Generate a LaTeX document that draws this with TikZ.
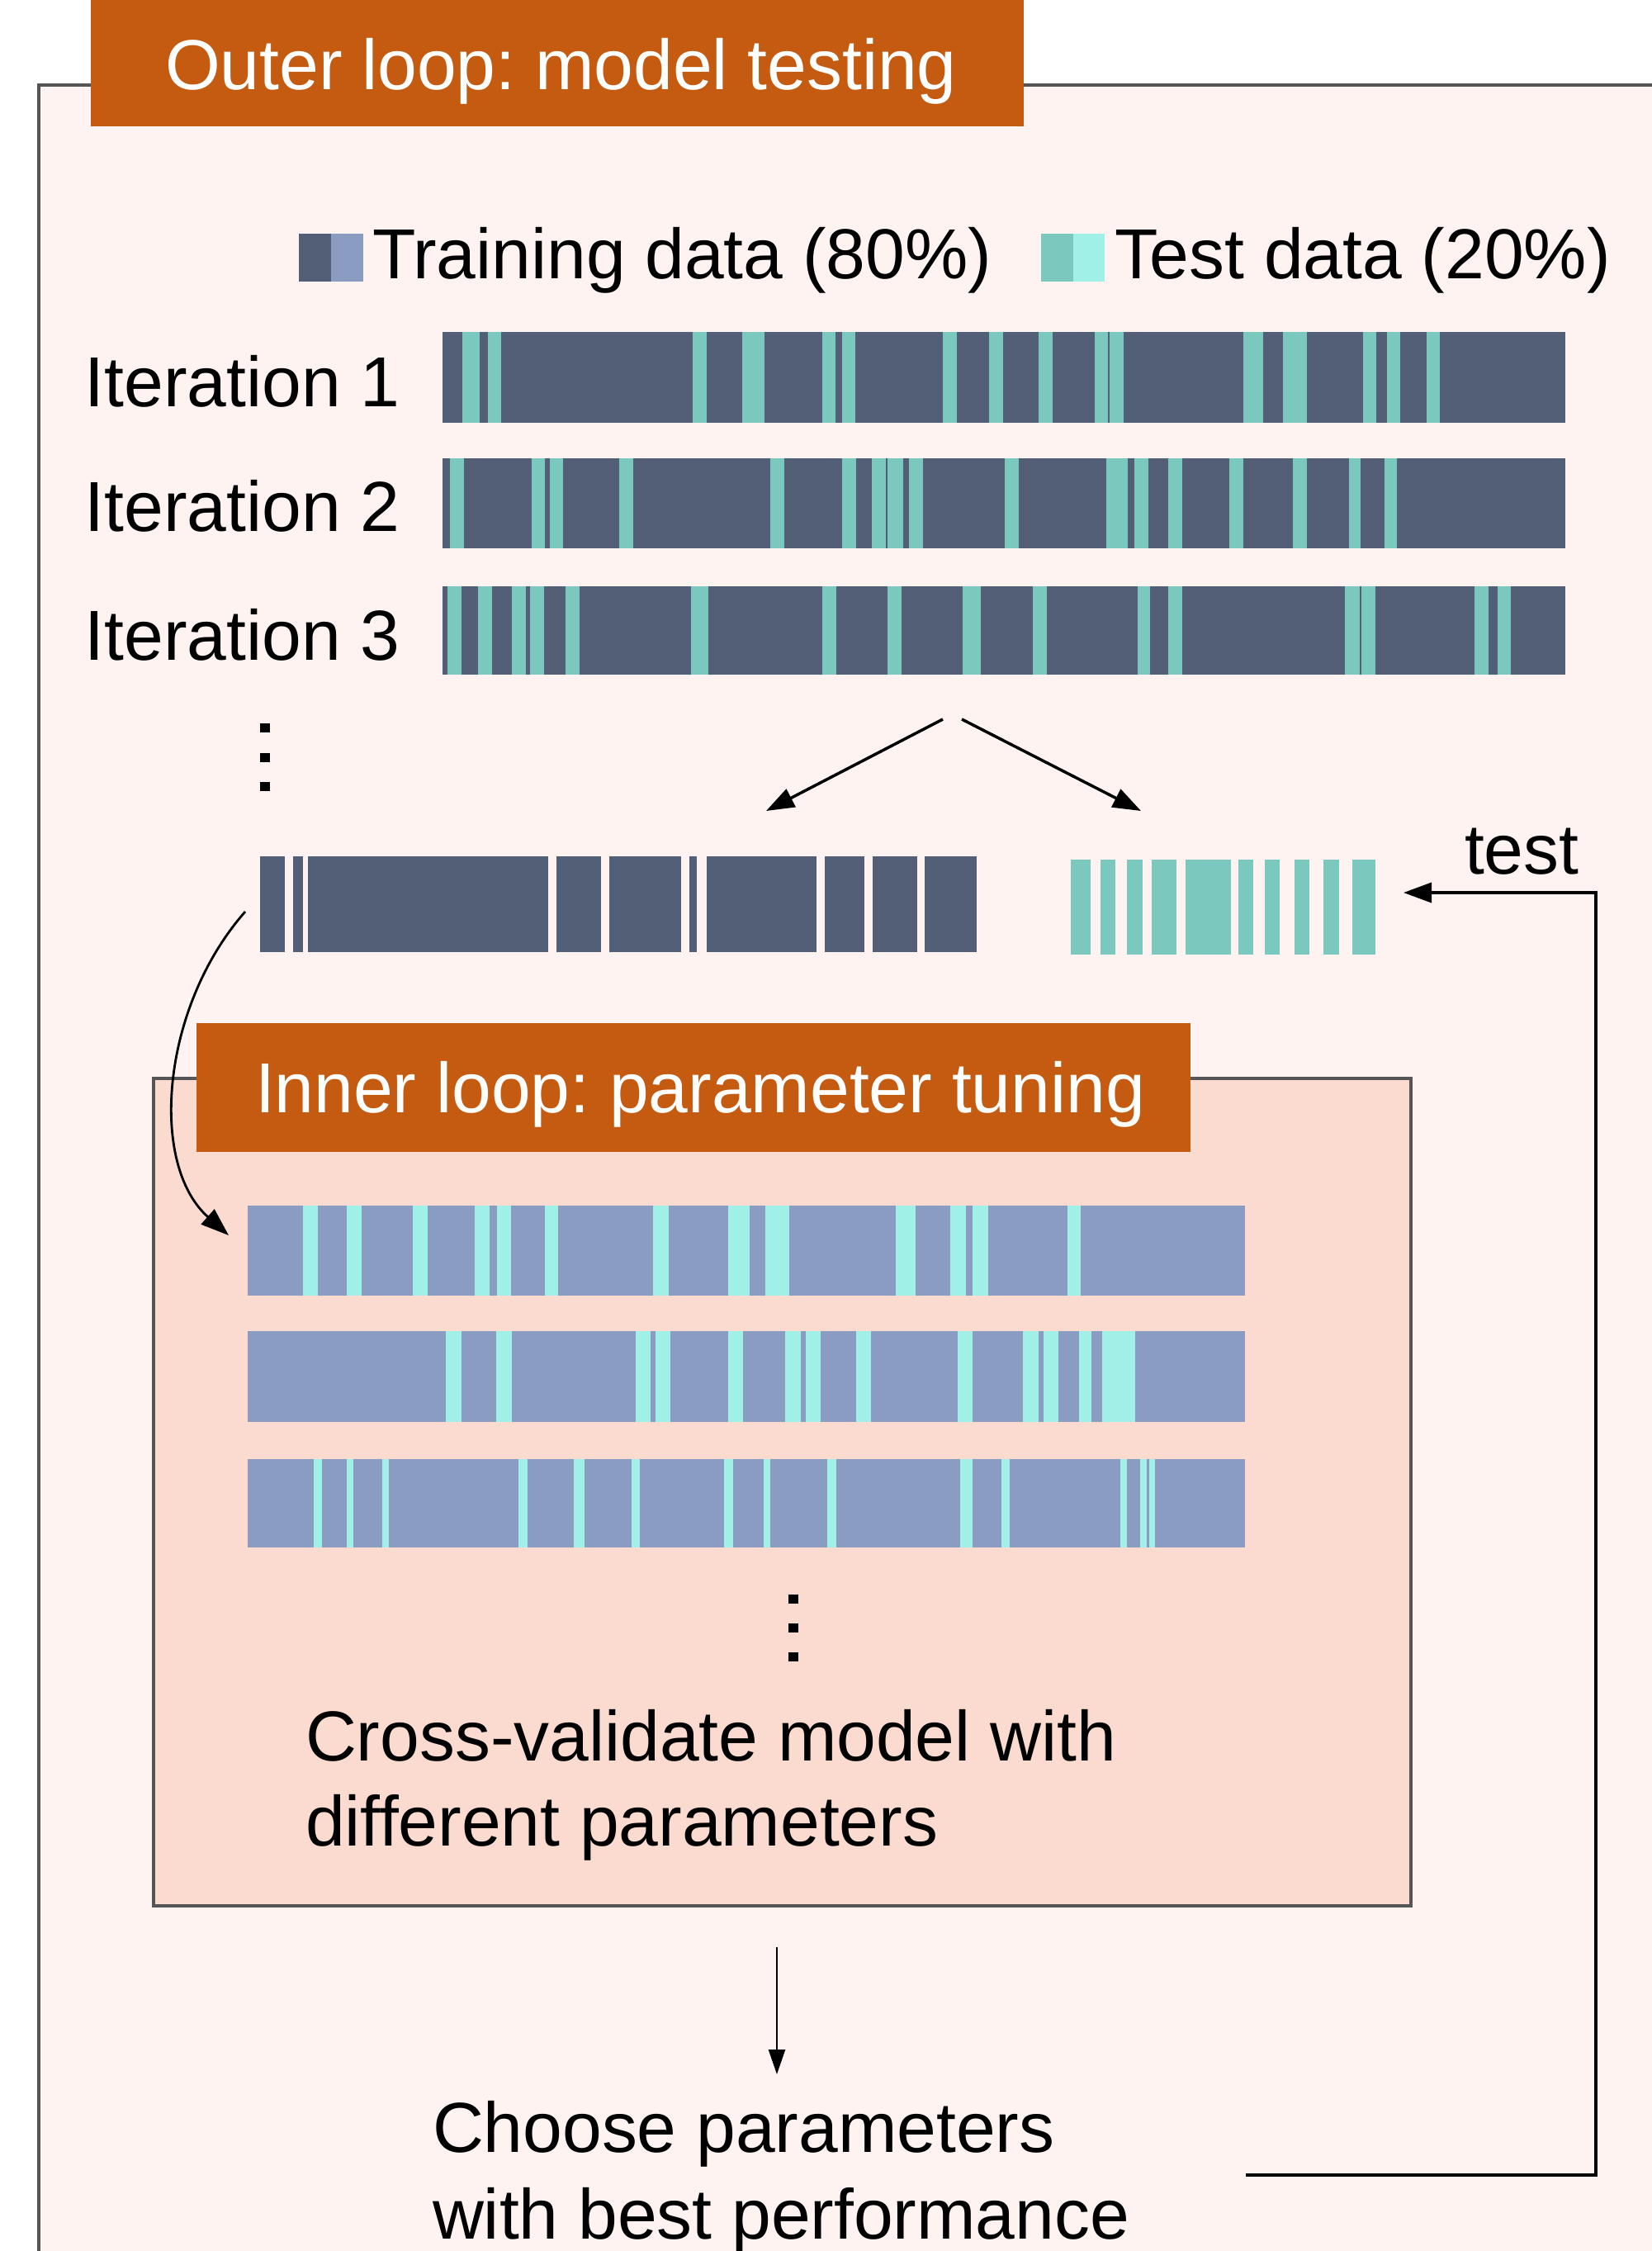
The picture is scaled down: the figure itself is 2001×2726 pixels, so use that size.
\documentclass[tikz,border=0pt]{standalone}
\usepackage{fontspec}
\setmainfont{Liberation Sans}
\usetikzlibrary{arrows.meta,fit}
\frenchspacing
\definecolor{trdark}{HTML}{535E77}
\definecolor{trlight}{HTML}{8A9CC2}
\definecolor{tedark}{HTML}{7BC8BE}
\definecolor{telight}{HTML}{A0F0E8}
\definecolor{outerbg}{HTML}{FEF3F0}
\definecolor{innerbg}{HTML}{FBDBCF}
\definecolor{titlebg}{HTML}{C55A11}
\definecolor{framecol}{HTML}{555555}
\newcommand{\stripebar}[8]{%
  \node[fit={(#2,#3) (#4,#5)}, inner sep=0pt, outer sep=0pt, fill=#6] (#1) {};
  \foreach \a/\b in {#8} {\fill[#7] (\a,#3) rectangle (\b,#5);}
}
\newcommand{\segbar}[7]{%
  \node[fit={(#2,#3) (#4,#5)}, inner sep=0pt, outer sep=0pt] (#1) {};
  \foreach \a/\b in {#7} {\fill[#6] (\a,#3) rectangle (\b,#5);}
}
\tikzset{
  lbl/.style={inner sep=0pt, outer sep=0pt, anchor=base west, font=\fontsize{24.4}{28}\selectfont\frenchspacing},
  wlbl/.style={lbl, text=white},
  arr/.style={line width=1pt, -{Triangle[length=0.34cm,width=0.24cm]}},
  thinarr/.style={line width=0.7pt, -{Triangle[length=0.3cm,width=0.2cm]}},
}
\begin{document}
\begin{tikzpicture}[x=0.01cm, y=-0.01cm]
\useasboundingbox (0,0) rectangle (2001,2726);
\clip (0,0) rectangle (2001,2726);
\fill[white] (0,0) rectangle (2001,2726);
% outer frame
\fill[outerbg] (47,103) rectangle (2010,2740);
\draw[framecol, line width=0.9pt] (47,2740) -- (47,103) -- (2010,103);
\node[fit={(110,0) (1240,153)}, inner sep=0pt, fill=titlebg] (outertitle) {};
\node[wlbl] (outertext) at (200,108) {Outer loop: model testing};
% legend
\fill[trdark] (362,283) rectangle (401,341);
\fill[trlight] (401,283) rectangle (440,341);
\node[lbl] (legtrain) at (451,337) {Training data (80\%)};
\fill[tedark] (1261,283) rectangle (1300,341);
\fill[telight] (1300,283) rectangle (1338,341);
\node[lbl] (legtest) at (1350,337) {Test data (20\%)};
% iteration labels
\node[lbl] (lab1) at (103,492) {Iteration 1};
\node[lbl] (lab2) at (103,643) {Iteration 2};
\node[lbl] (lab3) at (103,799) {Iteration 3};
\fill (315,876) rectangle (327,887);
\fill (315,912) rectangle (327,923);
\fill (315,947) rectangle (327,958);
% iteration bars
\stripebar{it1}{536}{402}{1896}{512}{trdark}{tedark}{560/581, 591/607, 839/856, 899/926, 996/1012, 1020/1036, 1142/1159, 1198/1215, 1258/1275, 1326/1342, 1344/1361, 1506/1530, 1554/1583, 1651/1667, 1680/1696, 1728/1744}
\stripebar{it2}{536}{555}{1896}{664}{trdark}{tedark}{545/562, 644/660, 666/682, 750/767, 933/950, 1020/1037, 1056/1073, 1075/1094, 1101/1118, 1217/1234, 1340/1366, 1374/1391, 1415/1432, 1489/1506, 1566/1583, 1634/1648, 1677/1692}
\stripebar{it3}{536}{710}{1896}{817}{trdark}{tedark}{542/559, 579/596, 620/637, 642/659, 685/702, 837/858, 996/1013, 1075/1092, 1166/1188, 1251/1268, 1378/1393, 1415/1432, 1629/1647, 1649/1666, 1786/1803, 1814/1830}
% split arrows
\coordinate (splitL) at (1142,871);
\coordinate (splitR) at (1165,871);
\coordinate (tipL) at (928,982);
\coordinate (tipR) at (1382,982);
\draw[arr] (splitL) -- (tipL);
\draw[arr] (splitR) -- (tipR);
% subsets
\segbar{trainset}{315}{1037}{1183}{1153}{trdark}{315/345, 355/367, 373/664, 674/728, 738/825, 835/844, 856/989, 999/1047, 1057/1111, 1120/1183}
\segbar{testset}{1297}{1041}{1666}{1156}{tedark}{1297/1321, 1333/1351, 1365/1384, 1395/1425, 1436/1491, 1500/1518, 1532/1550, 1568/1586, 1603/1622, 1638/1666}
\node[lbl] (testlbl) at (1774,1058) {test};
% inner box
\node[fit={(186,1306) (1709,2308)}, inner sep=0pt, fill=innerbg, draw=framecol, line width=0.9pt] (innerbox) {};
\node[fit={(238,1239) (1442,1395)}, inner sep=0pt, fill=titlebg] (innertitle) {};
\node[wlbl] (innertext) at (309,1347) {Inner loop: parameter tuning};
\stripebar{in1}{300}{1460}{1508}{1569}{trlight}{telight}{367/385, 420/438, 500/518, 575/593, 602/619, 660/676, 791/810, 882/908, 927/956, 1085/1109, 1151/1170, 1178/1197, 1293/1309}
\stripebar{in2}{300}{1612}{1508}{1722}{trlight}{telight}{540/559, 601/620, 770/788, 794/812, 882/900, 951/970, 976/994, 1037/1055, 1160/1178, 1239/1258, 1264/1282, 1307/1322, 1335/1375}
\stripebar{in3}{300}{1767}{1508}{1874}{trlight}{telight}{380/390, 420/428, 463/471, 628/639, 695/708, 765/775, 877/888, 925/933, 1002/1013, 1163/1178, 1213/1223, 1357/1365, 1381/1389, 1392/1399}
\fill (955,1931) rectangle (967,1942);
\fill (955,1966) rectangle (967,1977);
\fill (955,2001) rectangle (967,2012);
\node[lbl] (cv1) at (370,2132) {Cross-validate model with};
\node[lbl] (cv2) at (370,2235) {different parameters};
% choose
\coordinate (downS) at (941,2358);
\coordinate (downE) at (941,2512);
\draw[thinarr] (downS) -- (downE);
\node[lbl] (ch1) at (524,2606) {Choose parameters};
\node[lbl] (ch2) at (524,2711) {with best performance};
% test feedback
\coordinate (fbS) at (1509,2634);
\coordinate (fbC1) at (1933,2634);
\coordinate (fbC2) at (1933,1081);
\coordinate (fbE) at (1700,1081);
\draw[arr] (fbS) -- (fbC1) -- (fbC2) -- (fbE);
% curved arrow
\coordinate (cS) at (297,1104);
\coordinate (cE) at (277,1496);
\draw[arr, line width=0.8pt] (cS) .. controls (195,1220) and (180,1410) .. (cE);
\end{tikzpicture}
\end{document}
